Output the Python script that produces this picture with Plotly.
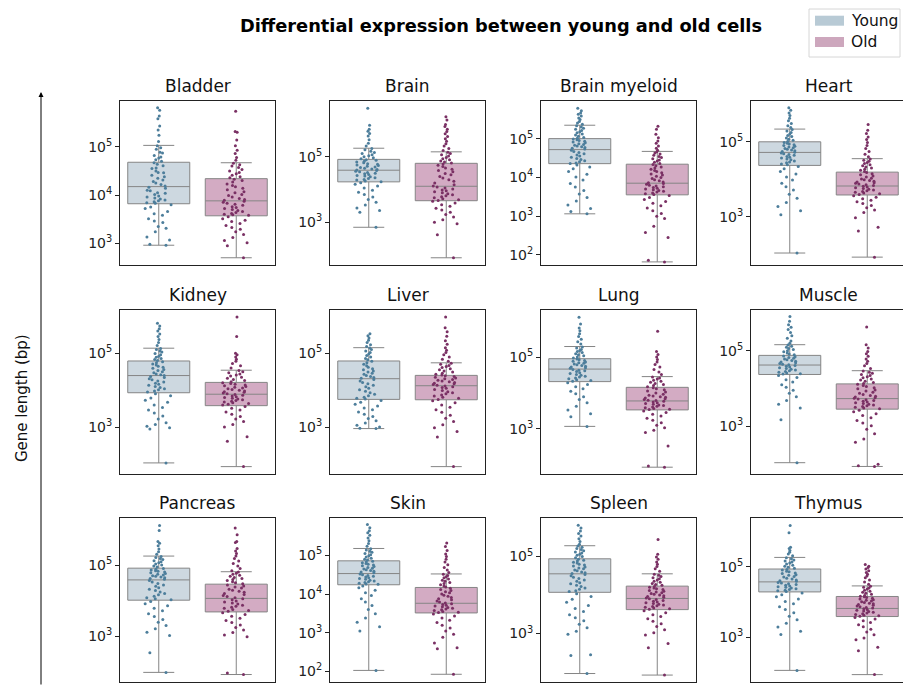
import numpy as np
import plotly.graph_objects as go

# ---------------------------------------------------------------- data
tissues = ["Bladder", "Brain", "Brain myeloid", "Heart",
           "Kidney", "Liver", "Lung", "Muscle",
           "Pancreas", "Skin", "Spleen", "Thymus"]
groups = ["Young", "Old"]

# Box summaries, log10(gene length in bp), one value per tissue
young_lo = [2.96, 2.85, 3.06, 2.03, 2.03, 2.96, 3.07, 2.03, 1.99, 2.02, 1.96, 2.06]
young_q1 = [3.82, 4.235, 4.354, 4.37, 3.93, 3.75, 4.32, 4.37, 4.02, 4.24, 4.07, 4.29]
young_med = [4.175, 4.59, 4.716, 4.717, 4.395, 4.31, 4.67, 4.62, 4.59, 4.53, 4.55, 4.575]
young_q3 = [4.68, 4.92, 5.0, 5.0, 4.79, 4.79, 4.96, 4.876, 4.92, 4.86, 4.94, 4.94]
young_hi = [5.03, 5.26, 5.345, 5.34, 5.136, 5.15, 5.30, 5.16, 5.26, 5.18, 5.28, 5.27]

old_lo = [2.70, 1.92, 1.82, 1.92, 1.93, 1.93, 1.93, 1.93, 1.93, 1.92, 1.92, 1.94]
old_q1 = [3.57, 3.66, 3.55, 3.58, 3.58, 3.74, 3.53, 3.45, 3.69, 3.51, 3.62, 3.59]
old_med = [3.88, 4.10, 3.85, 3.82, 3.89, 4.12, 3.78, 3.73, 4.07, 3.76, 3.91, 3.82]
old_q3 = [4.34, 4.80, 4.34, 4.19, 4.21, 4.40, 4.16, 4.12, 4.47, 4.17, 4.23, 4.16]
old_hi = [4.67, 5.15, 4.67, 4.55, 4.54, 4.74, 4.46, 4.47, 4.82, 4.52, 4.55, 4.46]

# Individual genes, log10(gene length in bp)
bladder_young = [5.81, 5.76, 5.64, 5.58, 5.43, 5.35, 5.24, 5.11, 5.02, 4.98, 4.95, 4.89, 4.87, 4.82, 4.79, 4.77, 4.73, 4.70,
                 4.67, 4.64, 4.61, 4.56, 4.55, 4.50, 4.47, 4.46, 4.41, 4.38, 4.35, 4.31, 4.28, 4.25, 4.22, 4.19,
                 4.16, 4.14, 4.10, 4.09, 4.05, 4.04, 4.01, 3.98, 3.96, 3.94, 3.92, 3.90, 3.88, 3.86, 3.84, 3.83,
                 3.80, 3.75, 3.72, 3.66, 3.61, 3.58, 3.51, 3.46, 3.43, 3.35, 3.31, 3.24, 3.13, 3.07, 2.98, 2.96]
bladder_old = [5.74, 5.32, 5.30, 5.14, 5.02, 4.93, 4.86, 4.78, 4.72, 4.66, 4.63, 4.60, 4.57, 4.53, 4.50, 4.47, 4.44, 4.41, 4.38, 4.36,
               4.33, 4.30, 4.27, 4.23, 4.20, 4.17, 4.14, 4.11, 4.07, 4.05, 4.01, 3.99, 3.96, 3.93, 3.91, 3.89,
               3.87, 3.85, 3.83, 3.81, 3.79, 3.76, 3.74, 3.72, 3.70, 3.68, 3.66, 3.64, 3.62, 3.60, 3.59, 3.58,
               3.55, 3.51, 3.48, 3.45, 3.41, 3.37, 3.33, 3.29, 3.24, 3.18, 3.12, 3.06, 3.01, 2.95, 2.70]
brain_young = [6.48, 5.96, 5.84, 5.78, 5.71, 5.63, 5.52, 5.41, 5.33, 5.25, 5.21, 5.17, 5.13, 5.10, 5.06, 5.03, 5.00, 4.97, 4.94,
               4.91, 4.89, 4.86, 4.84, 4.82, 4.79, 4.77, 4.75, 4.73, 4.71, 4.69, 4.67, 4.65, 4.63, 4.61, 4.60,
               4.58, 4.56, 4.54, 4.52, 4.50, 4.48, 4.46, 4.43, 4.41, 4.39, 4.36, 4.34, 4.31, 4.29, 4.26, 4.24,
               4.21, 4.16, 4.11, 4.05, 3.98, 3.92, 3.85, 3.77, 3.70, 3.61, 3.53, 3.44, 3.36, 3.31, 2.85]
brain_old = [6.22, 6.12, 5.98, 5.92, 5.84, 5.77, 5.70, 5.62, 5.55, 5.47, 5.40, 5.33, 5.25, 5.19,
             5.14, 5.10, 5.06, 5.02, 4.98, 4.94, 4.91, 4.87, 4.84, 4.81,
             4.78, 4.74, 4.70, 4.66, 4.62, 4.58, 4.54, 4.49, 4.45, 4.40, 4.35, 4.30, 4.25, 4.20, 4.15, 4.11,
             4.08, 4.05, 4.02, 3.99, 3.96, 3.93, 3.90, 3.87, 3.84, 3.81, 3.78, 3.75, 3.72, 3.69, 3.67,
             3.64, 3.59, 3.54, 3.49, 3.43, 3.38, 3.31, 3.24, 3.16, 3.08, 3.00, 2.96, 2.62, 1.92]
brain_myeloid_young = [5.78, 5.72, 5.66, 5.63, 5.58, 5.53, 5.49, 5.44, 5.40, 5.37,
                       5.33, 5.30, 5.27, 5.24, 5.21, 5.18, 5.15, 5.12, 5.09, 5.06, 5.03, 5.01,
                       4.99, 4.97, 4.95, 4.93, 4.91, 4.89, 4.87, 4.85, 4.83, 4.81, 4.79, 4.77, 4.75, 4.73,
                       4.70, 4.67, 4.64, 4.61, 4.58, 4.55, 4.52, 4.49, 4.46, 4.43, 4.40, 4.37, 4.36,
                       4.32, 4.27, 4.22, 4.15, 4.08, 4.01, 3.93, 3.84, 3.75, 3.66, 3.57, 3.48, 3.39, 3.29, 3.20, 3.12, 3.06]
brain_myeloid_old = [5.32, 5.24, 5.11, 5.02, 4.94, 4.88, 4.81, 4.75, 4.70,
                     4.66, 4.63, 4.60, 4.57, 4.54, 4.51, 4.48, 4.45, 4.42, 4.39, 4.36,
                     4.33, 4.30, 4.27, 4.24, 4.21, 4.18, 4.15, 4.12, 4.09, 4.06, 4.03, 4.00, 3.97, 3.94, 3.91, 3.88, 3.86,
                     3.84, 3.82, 3.80, 3.78, 3.76, 3.74, 3.72, 3.70, 3.68, 3.66, 3.64, 3.62, 3.60, 3.58, 3.56,
                     3.53, 3.48, 3.43, 3.38, 3.33, 3.27, 3.21, 3.14, 3.07, 3.00, 2.94, 2.74, 2.58, 2.45, 1.86, 1.82]
heart_young = [5.91, 5.84, 5.77, 5.70, 5.63, 5.56, 5.49, 5.43, 5.38,
               5.33, 5.29, 5.25, 5.21, 5.17, 5.14, 5.10, 5.07, 5.04, 5.01,
               4.98, 4.96, 4.94, 4.92, 4.90, 4.88, 4.86, 4.84, 4.82, 4.80, 4.78, 4.76, 4.74, 4.72,
               4.70, 4.68, 4.66, 4.64, 4.61, 4.59, 4.57, 4.54, 4.52, 4.49, 4.46, 4.44, 4.41, 4.39,
               4.34, 4.28, 4.21, 4.14, 4.06, 3.98, 3.89, 3.80, 3.71, 3.60, 3.49, 3.38, 3.27, 3.16, 3.05, 2.03]
heart_old = [5.46, 5.31, 5.22, 5.13, 5.06, 4.98, 4.90, 4.82, 4.74, 4.67, 4.60,
             4.54, 4.51, 4.48, 4.45, 4.42, 4.39, 4.36, 4.33, 4.30, 4.27, 4.24, 4.21,
             4.18, 4.15, 4.12, 4.09, 4.06, 4.03, 4.01, 3.99, 3.97, 3.95, 3.93, 3.91, 3.89, 3.87, 3.85, 3.83,
             3.81, 3.79, 3.77, 3.75, 3.73, 3.71, 3.69, 3.67, 3.65, 3.63, 3.61, 3.59,
             3.56, 3.52, 3.48, 3.44, 3.40, 3.35, 3.30, 3.24, 3.18, 3.11, 2.97, 2.72, 2.62, 1.92]
kidney_young = [5.81, 5.74, 5.66, 5.60, 5.52, 5.45, 5.37, 5.29, 5.21,
                5.13, 5.10, 5.06, 5.03, 4.99, 4.96, 4.92, 4.89, 4.86, 4.83, 4.80,
                4.77, 4.74, 4.71, 4.68, 4.65, 4.62, 4.59, 4.56, 4.53, 4.50, 4.47, 4.44, 4.42, 4.40,
                4.37, 4.34, 4.31, 4.28, 4.25, 4.22, 4.19, 4.16, 4.13, 4.10, 4.07, 4.04, 4.01, 3.98, 3.95,
                3.90, 3.85, 3.79, 3.73, 3.67, 3.60, 3.53, 3.46, 3.38, 3.30, 3.22, 3.12, 3.07, 3.02, 2.98, 2.95, 2.03]
kidney_old = [5.98, 5.45, 5.00, 4.96, 4.90, 4.84, 4.78, 4.72, 4.66, 4.60,
              4.53, 4.50, 4.47, 4.44, 4.41, 4.38, 4.35, 4.32, 4.29, 4.26, 4.23,
              4.20, 4.18, 4.16, 4.14, 4.12, 4.10, 4.08, 4.06, 4.04, 4.02, 4.00, 3.98, 3.96, 3.94, 3.92, 3.90,
              3.88, 3.86, 3.84, 3.82, 3.80, 3.78, 3.76, 3.74, 3.72, 3.70, 3.68, 3.66, 3.64, 3.62, 3.60,
              3.56, 3.51, 3.46, 3.41, 3.35, 3.29, 3.22, 3.15, 3.07, 3.00, 2.74, 2.62, 1.93]
liver_young = [5.53, 5.47, 5.41, 5.35, 5.29, 5.23, 5.18,
               5.14, 5.10, 5.06, 5.02, 4.98, 4.94, 4.90, 4.86, 4.82,
               4.78, 4.74, 4.70, 4.66, 4.62, 4.58, 4.55, 4.52, 4.49, 4.46, 4.43, 4.40, 4.37, 4.34, 4.32,
               4.29, 4.25, 4.21, 4.17, 4.13, 4.09, 4.05, 4.01, 3.97, 3.93, 3.89, 3.85, 3.81, 3.78, 3.76,
               3.72, 3.67, 3.62, 3.57, 3.52, 3.47, 3.41, 3.35, 3.29, 3.23, 3.17, 3.11, 3.05, 3.00, 2.97, 2.96]
liver_old = [5.98, 5.69, 5.58, 5.46, 5.34, 5.24, 5.15, 5.08, 5.02, 4.96, 4.90, 4.84, 4.78,
             4.73, 4.70, 4.67, 4.64, 4.61, 4.58, 4.55, 4.52, 4.49, 4.46, 4.43, 4.41,
             4.39, 4.37, 4.35, 4.33, 4.31, 4.29, 4.27, 4.25, 4.23, 4.21, 4.19, 4.17, 4.15, 4.13,
             4.11, 4.09, 4.07, 4.05, 4.02, 3.99, 3.96, 3.93, 3.90, 3.87, 3.84, 3.81, 3.78, 3.75,
             3.71, 3.66, 3.60, 3.54, 3.47, 3.40, 3.32, 3.24, 3.15, 3.06, 2.98, 2.88, 2.73, 1.93]
lung_young = [6.12, 5.93, 5.82, 5.74, 5.66, 5.58, 5.50, 5.43, 5.37,
              5.29, 5.26, 5.22, 5.19, 5.16, 5.13, 5.10, 5.07, 5.04, 5.01, 4.98,
              4.95, 4.93, 4.91, 4.89, 4.87, 4.85, 4.83, 4.81, 4.79, 4.77, 4.75, 4.73, 4.71, 4.69,
              4.66, 4.64, 4.62, 4.60, 4.57, 4.55, 4.52, 4.50, 4.47, 4.45, 4.42, 4.40, 4.37, 4.35, 4.33,
              4.29, 4.24, 4.18, 4.12, 4.05, 3.98, 3.90, 3.82, 3.73, 3.63, 3.53, 3.42, 3.34, 3.07]
lung_old = [5.73, 5.16, 5.08, 5.01, 4.94, 4.87, 4.80, 4.73, 4.66, 4.59, 4.52,
            4.45, 4.42, 4.39, 4.36, 4.33, 4.30, 4.27, 4.24, 4.21, 4.18,
            4.15, 4.12, 4.09, 4.06, 4.03, 4.00, 3.97, 3.94, 3.92, 3.90, 3.88, 3.86, 3.84, 3.82, 3.80, 3.79,
            3.77, 3.75, 3.73, 3.71, 3.69, 3.67, 3.65, 3.63, 3.61, 3.59, 3.57, 3.55, 3.54,
            3.50, 3.46, 3.41, 3.36, 3.30, 3.24, 3.17, 3.10, 3.03, 2.96, 2.90, 2.52, 1.96, 1.93]
muscle_young = [5.91, 5.78, 5.69, 5.62, 5.56, 5.48, 5.40, 5.33, 5.26, 5.20,
                5.15, 5.12, 5.09, 5.06, 5.03, 5.00, 4.97, 4.94, 4.91, 4.89,
                4.86, 4.84, 4.82, 4.80, 4.78, 4.76, 4.74, 4.72, 4.70, 4.68, 4.66, 4.64, 4.63,
                4.61, 4.59, 4.57, 4.55, 4.53, 4.51, 4.49, 4.47, 4.45, 4.43, 4.41, 4.39, 4.38,
                4.34, 4.29, 4.23, 4.17, 4.10, 4.03, 3.95, 3.87, 3.78, 3.68, 3.58, 3.48, 3.17, 2.03]
muscle_old = [5.63, 5.16, 5.07, 4.98, 4.92, 4.85, 4.78, 4.72, 4.66, 4.60, 4.53,
              4.46, 4.43, 4.40, 4.37, 4.34, 4.31, 4.28, 4.25, 4.22, 4.19, 4.16, 4.13,
              4.11, 4.08, 4.05, 4.02, 3.99, 3.96, 3.93, 3.90, 3.87, 3.84, 3.81, 3.79, 3.77, 3.75, 3.74,
              3.72, 3.70, 3.68, 3.66, 3.64, 3.62, 3.60, 3.58, 3.56, 3.54, 3.52, 3.50, 3.48, 3.46,
              3.42, 3.38, 3.33, 3.28, 3.22, 3.15, 3.08, 3.01, 2.92, 2.80, 2.66, 2.57, 1.99, 1.95, 1.93]
pancreas_young = [6.12, 5.98, 5.67, 5.62, 5.55, 5.46, 5.38, 5.31,
                  5.25, 5.22, 5.19, 5.16, 5.13, 5.10, 5.07, 5.04, 5.01, 4.98, 4.95,
                  4.91, 4.89, 4.87, 4.85, 4.83, 4.81, 4.79, 4.77, 4.75, 4.73, 4.71, 4.69, 4.67, 4.65, 4.63, 4.61,
                  4.57, 4.53, 4.49, 4.45, 4.41, 4.37, 4.33, 4.29, 4.25, 4.21, 4.17, 4.13, 4.09, 4.06, 4.03,
                  3.98, 3.92, 3.86, 3.79, 3.72, 3.64, 3.56, 3.48, 3.40, 3.31, 3.22, 3.12, 3.03, 2.54, 1.99]
pancreas_old = [6.05, 5.86, 5.67, 5.64, 5.47, 5.40, 5.33, 5.26, 5.19, 5.12, 5.05, 4.98, 4.91, 4.85,
                4.81, 4.78, 4.75, 4.72, 4.69, 4.66, 4.63, 4.60, 4.57, 4.54, 4.51, 4.48,
                4.45, 4.42, 4.39, 4.36, 4.33, 4.30, 4.27, 4.24, 4.21, 4.18, 4.15, 4.12, 4.09,
                4.06, 4.03, 4.00, 3.97, 3.94, 3.91, 3.88, 3.85, 3.82, 3.79, 3.76, 3.73, 3.71,
                3.67, 3.62, 3.57, 3.51, 3.45, 3.39, 3.32, 3.25, 3.18, 3.11, 3.04, 2.99, 1.97, 1.93]
skin_young = [5.80, 5.72, 5.64, 5.59, 5.52, 5.45, 5.38, 5.31, 5.24,
              5.17, 5.14, 5.11, 5.08, 5.05, 5.02, 4.99, 4.96, 4.93, 4.90, 4.88,
              4.85, 4.83, 4.81, 4.79, 4.77, 4.75, 4.73, 4.71, 4.69, 4.67, 4.65, 4.63, 4.61, 4.59, 4.57, 4.55,
              4.52, 4.50, 4.48, 4.46, 4.44, 4.42, 4.40, 4.38, 4.36, 4.34, 4.32, 4.30, 4.28, 4.26, 4.25,
              4.21, 4.16, 4.10, 4.03, 3.96, 3.88, 3.79, 3.70, 3.60, 3.49, 3.38, 3.27, 3.15, 3.04, 2.02]
skin_old = [5.32, 5.23, 5.13, 5.04, 4.97, 4.90, 4.83, 4.76, 4.69, 4.62, 4.56,
            4.51, 4.48, 4.45, 4.42, 4.39, 4.36, 4.33, 4.30, 4.27, 4.24, 4.21, 4.18,
            4.15, 4.12, 4.09, 4.06, 4.03, 4.00, 3.97, 3.94, 3.91, 3.88, 3.85, 3.82, 3.79, 3.77,
            3.75, 3.73, 3.71, 3.69, 3.67, 3.65, 3.63, 3.61, 3.59, 3.57, 3.55, 3.53, 3.52,
            3.48, 3.43, 3.38, 3.32, 3.26, 3.19, 3.12, 3.04, 2.96, 2.88, 2.73, 2.61, 2.58, 1.92]
spleen_young = [5.81, 5.74, 5.66, 5.60, 5.53, 5.46, 5.39, 5.32,
                5.27, 5.24, 5.21, 5.18, 5.15, 5.12, 5.09, 5.06, 5.03, 5.00, 4.97,
                4.93, 4.90, 4.88, 4.85, 4.83, 4.80, 4.78, 4.75, 4.73, 4.70, 4.68, 4.65, 4.63, 4.60, 4.58, 4.56,
                4.53, 4.50, 4.46, 4.43, 4.39, 4.36, 4.32, 4.29, 4.25, 4.22, 4.18, 4.15, 4.11, 4.09,
                4.03, 3.96, 3.89, 3.81, 3.73, 3.65, 3.57, 3.49, 3.41, 3.33, 3.24, 3.15, 3.06, 2.98, 2.45, 2.43, 1.96]
spleen_old = [5.44, 5.06, 4.99, 4.93, 4.86, 4.80, 4.74, 4.68, 4.62,
              4.54, 4.51, 4.48, 4.45, 4.42, 4.39, 4.36, 4.33, 4.30, 4.27, 4.25,
              4.22, 4.20, 4.18, 4.16, 4.14, 4.12, 4.10, 4.08, 4.06, 4.04, 4.02, 4.00, 3.98, 3.96, 3.94, 3.92,
              3.90, 3.88, 3.86, 3.84, 3.82, 3.80, 3.78, 3.76, 3.74, 3.72, 3.70, 3.68, 3.66, 3.64, 3.63,
              3.59, 3.54, 3.49, 3.44, 3.38, 3.32, 3.25, 3.18, 3.10, 3.02, 2.96, 2.74, 2.63, 1.92]
thymus_young = [6.18, 5.97, 5.56, 5.52, 5.47, 5.42, 5.37, 5.32,
                5.26, 5.23, 5.20, 5.17, 5.14, 5.11, 5.08, 5.05, 5.02, 4.99, 4.96,
                4.93, 4.91, 4.88, 4.86, 4.83, 4.81, 4.78, 4.76, 4.73, 4.71, 4.68, 4.66, 4.63, 4.61, 4.59,
                4.56, 4.54, 4.52, 4.50, 4.48, 4.46, 4.44, 4.42, 4.40, 4.38, 4.36, 4.34, 4.32, 4.30,
                4.26, 4.21, 4.15, 4.09, 4.02, 3.95, 3.87, 3.79, 3.70, 3.60, 3.50, 3.40, 3.29, 3.17, 3.08, 2.06]
thymus_old = [5.07, 5.02, 4.98, 4.94, 4.89, 4.84, 4.79, 4.74, 4.69, 4.63, 4.57, 4.51,
              4.45, 4.42, 4.40, 4.37, 4.34, 4.31, 4.28, 4.25, 4.22, 4.19, 4.17,
              4.15, 4.13, 4.11, 4.09, 4.07, 4.05, 4.03, 4.01, 3.99, 3.97, 3.95, 3.93, 3.91, 3.89, 3.87, 3.85, 3.83,
              3.81, 3.79, 3.77, 3.75, 3.73, 3.71, 3.69, 3.67, 3.65, 3.63, 3.61, 3.60,
              3.56, 3.52, 3.47, 3.42, 3.36, 3.30, 3.23, 3.15, 3.07, 2.98, 2.93, 2.72, 2.62, 1.94]

young_points = [bladder_young, brain_young, brain_myeloid_young, heart_young,
                kidney_young, liver_young, lung_young, muscle_young,
                pancreas_young, skin_young, spleen_young, thymus_young]
old_points = [bladder_old, brain_old, brain_myeloid_old, heart_old,
              kidney_old, liver_old, lung_old, muscle_old,
              pancreas_old, skin_old, spleen_old, thymus_old]

# ---------------------------------------------------------------- styling
FONT = "DejaVu Sans"
INK = "#222222"
EDGE = "#858585"
BOX_FILL = {"Young": "rgb(205,216,224)", "Old": "rgb(211,171,195)"}
PATCH = {"Young": "rgb(184,202,213)", "Old": "rgb(205,167,189)"}
DOT = {"Young": "rgb(77,126,155)", "Old": "rgb(122,48,100)"}

# per-panel log10 axis limits and decade ticks
y_limits = [(2.55, 5.95), (1.70, 6.70), (1.74, 5.97), (1.71, 6.09),
            (1.73, 6.17), (1.73, 6.17), (1.74, 6.32), (1.73, 6.08),
            (1.72, 6.33), (1.72, 5.97), (1.74, 6.00), (1.73, 6.39)]
y_decades = [[3, 4, 5], [3, 5], [2, 3, 4, 5], [3, 5],
             [3, 5], [3, 5], [3, 5], [3, 5],
             [3, 5], [2, 3, 4, 5], [3, 5], [3, 5]]

W, H = 903, 686
col_left = [120, 330, 541, 751]
row_top = [101, 310, 518]
PW, PH = 155, 164


def px_x(x):
    return x / W


def px_y(y):
    return 1 - y / H


fig = go.Figure()
layout_axes = {}
annotations = []

stats = {
    "Young": (young_lo, young_q1, young_med, young_q3, young_hi, young_points),
    "Old": (old_lo, old_q1, old_med, old_q3, old_hi, old_points),
}

for i, name in enumerate(tissues):
    r, c = divmod(i, 4)
    suffix = "" if i == 0 else str(i + 1)
    xa, ya = "x" + suffix, "y" + suffix
    x0 = col_left[c]
    x1 = min(x0 + PW, W)
    y0 = row_top[r]
    y1 = y0 + PH

    layout_axes["xaxis" + suffix] = dict(
        domain=[px_x(x0), px_x(x1)], anchor=ya,
        range=[-0.5, -0.5 + 2 * (x1 - x0) / PW],
        showticklabels=False, ticks="", showgrid=False, zeroline=False,
        showline=True, mirror=True, linecolor=INK, linewidth=1,
    )
    lo, hi = y_limits[i]
    layout_axes["yaxis" + suffix] = dict(
        domain=[px_y(y1), px_y(y0)], anchor=xa, type="log",
        range=[lo, hi],
        tickmode="array",
        tickvals=[10 ** d for d in y_decades[i]],
        ticktext=["10<sup>%d</sup>" % d for d in y_decades[i]],
        ticks="outside", ticklen=4, tickwidth=1, tickcolor=INK,
        tickfont=dict(family=FONT, size=14, color=INK),
        showgrid=False, zeroline=False,
        showline=True, mirror=True, linecolor=INK, linewidth=1,
    )

    annotations.append(dict(
        text=name, xref="paper", yref="paper",
        x=px_x(x0 + PW / 2), y=px_y(y0 - 15),
        xanchor="center", yanchor="middle", showarrow=False,
        font=dict(family=FONT, size=17, color="#111111"),
    ))

    for k, g in enumerate(groups):
        g_lo, g_q1, g_med, g_q3, g_hi, g_pts = stats[g]
        fig.add_trace(go.Box(
            x=[k], q1=[10 ** g_q1[i]], median=[10 ** g_med[i]], q3=[10 ** g_q3[i]],
            lowerfence=[10 ** g_lo[i]], upperfence=[10 ** g_hi[i]],
            width=0.8, whiskerwidth=0.5, boxpoints=False,
            fillcolor=BOX_FILL[g], line=dict(color=EDGE, width=1),
            xaxis=xa, yaxis=ya, showlegend=False, hoverinfo="skip",
        ))
        fig.add_trace(go.Box(
            y=10 ** np.asarray(g_pts[i]), x0=k, width=0.8,
            boxpoints="all", jitter=0.45, pointpos=0,
            fillcolor="rgba(0,0,0,0)", line=dict(color="rgba(0,0,0,0)", width=0),
            marker=dict(color=DOT[g], size=3, line=dict(width=0)),
            xaxis=xa, yaxis=ya, showlegend=False, name=g,
        ))

# figure title
annotations.append(dict(
    text="<b>Differential expression between young and old cells</b>",
    xref="paper", yref="paper", x=px_x(501), y=px_y(25),
    xanchor="center", yanchor="middle", showarrow=False,
    font=dict(family=FONT, size=17.8, color="#000000"),
))

# shared y label with upward arrow
annotations.append(dict(
    text="Gene length (bp)", textangle=-90,
    xref="paper", yref="paper", x=px_x(22), y=px_y(398),
    xanchor="center", yanchor="middle", showarrow=False,
    font=dict(family=FONT, size=15, color="#111111"),
))
annotations.append(dict(
    text="", xref="paper", yref="paper", x=px_x(41), y=px_y(92),
    ax=0, ay=594, axref="pixel", ayref="pixel",
    showarrow=True, arrowhead=2, arrowsize=1, arrowwidth=1, arrowcolor="#000000",
))

# legend box
shapes = [dict(type="rect", xref="paper", yref="paper",
               x0=px_x(809), x1=px_x(900), y0=px_y(57), y1=px_y(9),
               line=dict(color="#d6d6d6", width=1), fillcolor="white")]
for j, g in enumerate(groups):
    top = 15.7 + j * 21.3
    shapes.append(dict(type="rect", xref="paper", yref="paper",
                       x0=px_x(815), x1=px_x(844), y0=px_y(top + 10), y1=px_y(top),
                       line=dict(width=0), fillcolor=PATCH[g]))
    annotations.append(dict(
        text=g, xref="paper", yref="paper", x=px_x(849), y=px_y(top + 5),
        xanchor="left", yanchor="middle", showarrow=False,
        font=dict(family=FONT, size=15.5, color="#111111"),
    ))

fig.update_layout(
    width=W, height=H, margin=dict(l=0, r=0, t=0, b=0),
    paper_bgcolor="white", plot_bgcolor="white",
    font=dict(family=FONT, color=INK),
    boxmode="overlay", showlegend=False,
    annotations=annotations, shapes=shapes,
    **layout_axes,
)

fig.write_html("out.html")
